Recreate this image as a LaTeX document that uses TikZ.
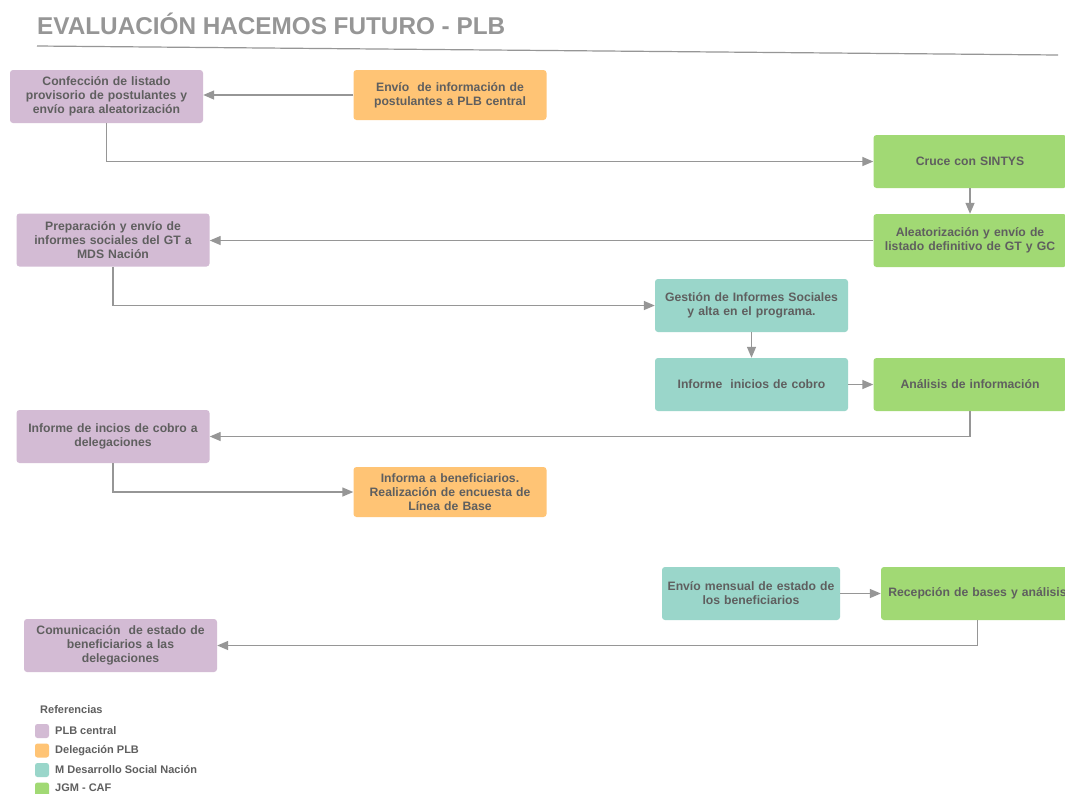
\documentclass[tikz,border=0pt]{standalone}
\usepackage{fontspec}
\setmainfont{Liberation Sans}
\usetikzlibrary{arrows.meta}
\definecolor{pur}{RGB}{211,187,212}
\definecolor{ora}{RGB}{255,196,117}
\definecolor{tea}{RGB}{154,214,202}
\definecolor{gre}{RGB}{161,217,116}
\definecolor{txt}{RGB}{95,95,95}
\definecolor{ln}{RGB}{150,150,150}
\definecolor{ttl}{RGB}{150,150,150}
\tikzset{
  box/.style={rectangle, rounded corners=3pt, align=center, inner sep=0pt,
    font=\bfseries\fontsize{12.2}{14}\selectfont, text=txt, text width=186pt,
    minimum width=193pt, minimum height=53pt},
  conn/.style={draw=ln, line width=1.4pt, -{Triangle[length=11pt,width=9pt]}},
  legsq/.style={rectangle, rounded corners=2.5pt, minimum width=14pt, minimum height=14pt, inner sep=0pt},
  legtx/.style={anchor=west, inner sep=0pt, font=\bfseries\fontsize{11}{12}\selectfont, text=txt}
}
\begin{document}
\begin{tikzpicture}[x=1pt,y=-1pt]
\useasboundingbox[fill=white] (0,0) rectangle (1065,793);
% title
\node[anchor=west, inner sep=0pt, text=ttl, font=\bfseries\fontsize{24.3}{26}\selectfont] (title) at (37,24) {EVALUACIÓN HACEMOS FUTURO - PLB};
\coordinate (tl1) at (37,46);
\coordinate (tl2) at (1058,55);
\draw[ln, line width=1.2pt] (tl1) -- (tl2);
% boxes
\node[box, fill=pur] (conf) at (106.5,96.5) {Confección de listado\\provisorio de postulantes y\\envío para aleatorización};
\node[box, fill=ora, minimum height=50pt] (envio) at (450,95) {Envío\ \ de información de\\postulantes a PLB central};
\node[box, fill=gre] (cruce) at (970,161.5) {Cruce con SINTYS};
\node[box, fill=gre] (alea) at (970,240.5) {Aleatorización y envío de\\listado definitivo de GT y GC};
\node[box, fill=pur] (prep) at (113,240) {Preparación y envío de\\informes sociales del GT a\\MDS Nación};
\node[box, fill=tea] (gest) at (751.5,305.5) {Gestión de Informes Sociales\\y alta en el programa.};
\node[box, fill=tea] (inic) at (751.5,384.5) {Informe\ \ inicios de cobro};
\node[box, fill=gre] (anal) at (970,384.5) {Análisis de información};
\node[box, fill=pur] (incd) at (113,436.5) {Informe de incios de cobro a\\delegaciones};
\node[box, fill=ora, minimum height=50pt] (infb) at (450,492) {Informa a beneficiarios.\\Realización de encuesta de\\Línea de Base};
\node[box, fill=tea, minimum width=178pt, text width=174pt] (mens) at (751,593.5) {Envío mensual de estado de\\los beneficiarios};
\node[box, fill=gre, text width=190pt] (recep) at (977.5,593.5) {Recepción de bases y análisis};
\node[box, fill=pur] (comu) at (120.5,645.5) {Comunicación\ \ de estado de\\beneficiarios a las\\delegaciones};
% connectors
\draw[conn] (envio.west) -- (conf.east |- envio.west);
\draw[conn] (conf.south) |- (cruce.west);
\draw[conn] (cruce.south) -- (alea.north);
\draw[conn] (alea.west) -- (prep.east |- alea.west);
\draw[conn] (prep.south) |- (gest.west);
\draw[conn] (gest.south) -- (inic.north);
\draw[conn] (inic.east) -- (anal.west);
\draw[conn] (anal.south) |- (incd.east);
\draw[conn] (incd.south) |- (infb.west);
\draw[conn] (mens.east) -- (recep.west);
\draw[conn] (recep.south) |- (comu.east);
% legend
\node[legtx] (ref) at (40,710) {Referencias};
\node[legsq, fill=pur] (sq1) at (42,731) {};
\node[legsq, fill=ora] (sq2) at (42,750.5) {};
\node[legsq, fill=tea] (sq3) at (42,770) {};
\node[legsq, fill=gre] (sq4) at (42,789.5) {};
\node[legtx] (l1) at (55,731) {PLB central};
\node[legtx] (l2) at (55,750.5) {Delegación PLB};
\node[legtx] (l3) at (55,770) {M Desarrollo Social Nación};
\node[legtx] (l4) at (55,787.5) {JGM - CAF};
\end{tikzpicture}
\end{document}
